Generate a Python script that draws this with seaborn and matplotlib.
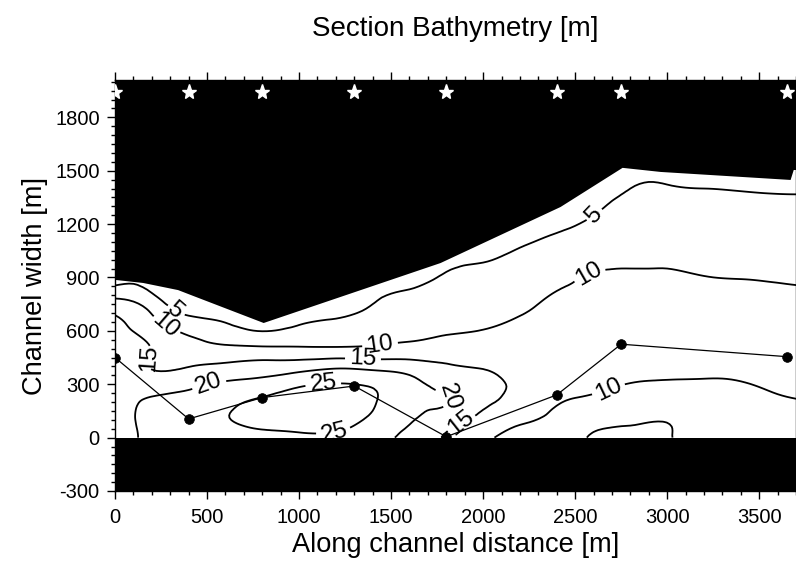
import numpy as np
import matplotlib
matplotlib.use("Agg")
import matplotlib.pyplot as plt
import seaborn as sns
from matplotlib.tri import Triangulation, UniformTriRefiner, CubicTriInterpolator

# ---------------- data ----------------
# along-channel stations [m] and cross-channel positions [m]
station_x = [0, 200, 400, 600, 800, 1000, 1200, 1400, 1600, 1800,
             2000, 2200, 2400, 2600, 2800, 3000, 3200, 3400, 3600, 3800]
width_y = [0, 100, 200, 300, 400, 500, 600, 700, 800, 900,
           1000, 1100, 1200, 1300, 1400, 1500, 1600]

# depth [m] profiles across the channel, one list per station (y = 0 ... 1600)
depth_profiles = [
    [16.5, 17.0, 17.5, 18.0, 18.5, 18.0, 16.8, 14.6, 8.7, 2.1, -4.5, -10, -10, -10, -10, -10, -10],   # 0
    [21.5, 21.8, 20.8, 17.5, 14.8, 14.9, 12.8, 9.8, 5.6, 1.5, -2.7, -7, -10, -10, -10, -10, -10],      # 200
    [23.0, 23.5, 22.0, 18.8, 14.9, 12.2, 9.0, 4.2, -0.6, -5.4, -10, -10, -10, -10, -10, -10, -10],     # 400
    [23.5, 24.8, 24.0, 20.8, 16.0, 11.1, 6.7, 2.3, -2.1, -6.5, -10, -10, -10, -10, -10, -10, -10],     # 600
    [24.0, 26.0, 25.8, 21.9, 16.9, 10.9, 4.9, -1.1, -7.0, -10, -10, -10, -10, -10, -10, -10, -10],     # 800
    [24.0, 27.0, 27.5, 24.2, 17.7, 10.7, 6.1, 1.8, -2.5, -6.8, -10, -10, -10, -10, -10, -10, -10],     # 1000
    [24.0, 27.0, 27.5, 25.2, 19.0, 10.6, 6.9, 3.7, 0.4, -2.9, -6.2, -9.5, -10, -10, -10, -10, -10],    # 1200
    [22.0, 24.0, 25.5, 24.3, 18.4, 10.8, 8.3, 6.2, 4.1, 2.0, -0.1, -2.2, -4.3, -6.4, -8.5, -10, -10],  # 1400
    [18.5, 20.5, 21.5, 21.5, 17.5, 11.5, 8.8, 7.2, 5.6, 4.0, 2.4, 0.8, -0.8, -2.4, -4.0, -5.6, -7.2],  # 1600
    [14.5, 17.0, 20.3, 18.5, 15.5, 12.2, 9.5, 8.2, 6.8, 5.4, 4.1, 2.7, 1.3, 0.0, -1.4, -2.8, -4.2],    # 1800
    [11.0, 13.5, 16.0, 16.5, 14.6, 12.0, 10.1, 8.8, 7.5, 6.2, 4.8, 3.5, 2.2, 0.8, -0.5, -1.8, -3.2],   # 2000
    [8.5, 10.8, 13.5, 14.0, 13.3, 12.0, 10.9, 9.8, 8.5, 7.2, 5.9, 4.6, 3.4, 2.1, 0.8, -0.5, -1.8],     # 2200
    [7.5, 8.8, 10.4, 12.0, 12.3, 12.0, 11.5, 11.0, 10.3, 8.8, 7.3, 5.7, 4.2, 2.6, 1.1, -0.5, -2.0],    # 2400
    [4.5, 6.5, 9.0, 10.8, 11.8, 12.3, 12.3, 12.0, 11.3, 10.4, 8.9, 7.4, 5.8, 4.2, 2.6, 1.0, -0.5],     # 2600
    [3.2, 5.8, 8.2, 9.9, 11.3, 12.5, 13.0, 12.8, 12.0, 10.6, 9.5, 8.4, 7.3, 6.2, 5.0, 3.9, 2.8],       # 2800
    [4.6, 5.3, 8.2, 9.7, 11.0, 12.0, 12.5, 12.3, 11.7, 10.6, 9.4, 8.3, 7.3, 6.3, 5.2, 4.2, 3.1],       # 3000
    [6.8, 7.2, 8.3, 9.6, 10.8, 11.8, 12.2, 12.0, 11.3, 10.1, 9.1, 8.1, 7.0, 6.0, 5.0, 4.0, 3.0],       # 3200
    [6.5, 7.6, 8.7, 9.8, 11.0, 11.8, 12.0, 11.7, 11.0, 9.9, 8.9, 7.9, 6.9, 5.85, 4.85, 3.8, 2.8],      # 3400
    [7.0, 8.3, 9.5, 10.6, 11.5, 11.7, 11.5, 11.0, 10.6, 9.7, 8.7, 7.7, 6.7, 5.7, 4.7, 3.7, 2.7],       # 3600
    [8.0, 9.3, 10.0, 11.0, 11.6, 11.7, 11.4, 11.0, 10.4, 9.5, 8.55, 7.6, 6.6, 5.65, 4.7, 3.7, 2.7],    # 3800
]
contour_levels = [5, 10, 15, 20, 25]

# upper shoreline (land above)
land_x = [0, 150, 340, 410, 805, 1766, 2418, 2755, 2962, 3668, 3685, 3720]
land_y = [889, 872, 832, 804, 647, 984, 1299, 1519, 1496, 1451, 1507, 1507]

# thalweg (deepest point) of each section
thalweg_x = [0, 400, 800, 1300, 1800, 2400, 2750, 3650]
thalweg_y = [450, 105, 225, 290, 5, 240, 525, 455]

# section stations (stars)
star_x = [0, 400, 800, 1300, 1800, 2400, 2750, 3650]
star_y = [1945] * len(star_x)

x_ticks = [0, 500, 1000, 1500, 2000, 2500, 3000, 3500]
y_ticks = [-300, 0, 300, 600, 900, 1200, 1500, 1800]

# label anchor positions (layout only)
label_positions = [(337, 720), (2620, 1243),
                   (261, 619), (1440, 523), (2565, 928), (2674, 281),
                   (179, 450), (1348, 450), (1859, 101),
                   (516, 287), (1804, 225),
                   (1130, 309), (1185, 45)]

# ---------------- figure ----------------
sns.set_theme(style="ticks")
plt.rcParams['font.family'] = ['Liberation Sans', 'DejaVu Sans']
plt.rcParams['axes.unicode_minus'] = False
plt.rcParams['axes.linewidth'] = 1.0
for k in ['text.color', 'axes.labelcolor', 'xtick.color', 'ytick.color', 'axes.edgecolor']:
    plt.rcParams[k] = 'black'

fig = plt.figure(figsize=(7.96, 5.61), dpi=100)
ax = fig.add_axes([0.1445, 0.1248, 0.8555, 0.7326])
ax.set_facecolor('white')

X, Y = np.meshgrid(np.array(station_x, float), np.array(width_y, float))
Z = np.array(depth_profiles, float).T
tri = Triangulation(X.ravel(), Y.ravel())
interp = CubicTriInterpolator(tri, Z.ravel(), kind='min_E')
refiner = UniformTriRefiner(tri)
tri_f, z_f = refiner.refine_field(Z.ravel(), triinterpolator=interp, subdiv=3)

cs = ax.tricontour(tri_f, z_f, levels=contour_levels, colors='black',
                   linewidths=1.3, zorder=2)

# land masks
ax.fill_between(land_x, land_y, 2100, color='black', lw=0, zorder=3)
ax.axhspan(-300, 0, color='black', lw=0, zorder=3)

labels = ax.clabel(cs, contour_levels, manual=label_positions, inline=True,
                   fontsize=17.5, fmt='%d', inline_spacing=4)
for t in labels:
    t.set_zorder(6)
    t.set_color('black')

sns.lineplot(x=thalweg_x, y=thalweg_y, sort=False, estimator=None, color='black',
             linewidth=0.9, marker='o', markersize=7, markeredgecolor='black',
             markeredgewidth=0.5, ax=ax, zorder=5)
ax.plot(star_x, star_y, ls='none', marker='*', markersize=11, color='white',
        markeredgecolor='white', zorder=7)

ax.set_xlim(0, 3700)
ax.set_ylim(-300, 2010)
ax.set_xticks(x_ticks)
ax.set_yticks(y_ticks)
ax.set_xticks(np.arange(0, 3701, 100), minor=True)
ax.set_yticks(np.arange(-300, 2001, 50), minor=True)
ax.tick_params(which='both', direction='out', top=True, right=True,
               labeltop=False, labelright=False, colors='black', width=1)
ax.tick_params(which='major', length=6, labelsize=14.5)
ax.tick_params(axis='x', which='major', pad=6.5)
ax.tick_params(axis='y', which='major', pad=5)
ax.tick_params(which='minor', length=3)

ax.set_xlabel('Along channel distance [m]', fontsize=19.6, labelpad=3)
ax.set_ylabel('Channel width [m]', fontsize=19.6, labelpad=5)
ax.set_title('Section Bathymetry [m]', fontsize=20, pad=32)

fig.savefig('out.png', dpi=100, facecolor='white')
